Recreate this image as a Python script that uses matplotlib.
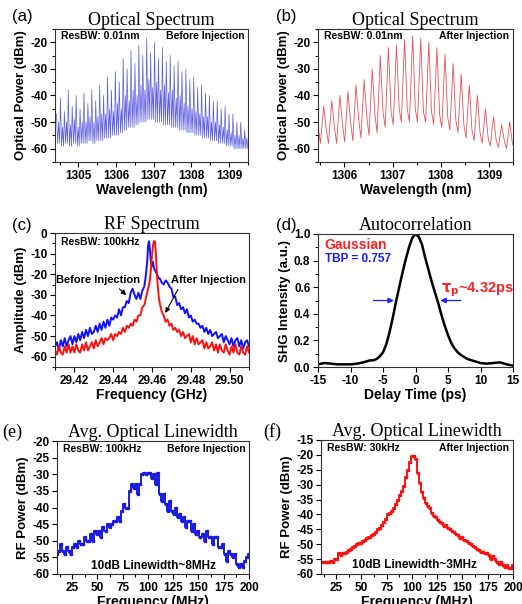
import numpy as np
import matplotlib
matplotlib.use('Agg')
import matplotlib.pyplot as plt
from matplotlib.ticker import MultipleLocator, FormatStrFormatter

plt.rcParams['font.family'] = ['Liberation Sans', 'DejaVu Sans']
plt.rcParams['font.weight'] = 'bold'
plt.rcParams['axes.labelweight'] = 'bold'
plt.rcParams['axes.unicode_minus'] = False
plt.rcParams['mathtext.fontset'] = 'dejavusans'

# ---------------- (a) optical spectrum, before injection ----------------
a_start_nm = 1304.42
a_spacing_nm = 0.104
a_peak = [-47, -41, -46, -38, -44, -40, -45, -39, -43, -38,
          -42, -36, -40, -33, -38, -31, -35, -26, -30, -23,
          -28, -21, -25, -18.5, -24,
          -20, -26, -22, -27, -25, -29, -27, -31, -30, -34,
          -33, -37, -36, -39, -40, -42, -42, -45, -44, -47,
          -47, -50, -50, -53]
a_floor = [-58, -59, -58, -59, -58, -59, -58, -58, -57, -58,
           -57, -57, -56, -56, -55, -55, -54, -53, -52, -52,
           -51, -50, -50, -49, -49, -50, -50, -51, -51, -52,
           -52, -53, -53, -54, -54, -55, -55, -56, -56, -57,
           -57, -58, -58, -59, -59, -60, -60, -60, -60]
a_sub = [-50, -52, -50, -51, -49, -52, -50, -50, -48, -50,
         -48, -47, -47, -45, -46, -43, -45, -40, -42, -38,
         -40, -36, -38, -34, -37, -35, -38, -36, -39, -38,
         -41, -40, -43, -44, -45, -46, -47, -48, -48, -50,
         -50, -51, -52, -53, -54, -55, -55, -56, -56]

# ---------------- (b) optical spectrum, after injection ----------------
b_start_nm = 1305.40
b_spacing_nm = 0.168
b_peak = [-43, -44, -42, -40, -38.5, -36, -34, -30, -25, -22,
          -21, -19, -17.5, -18.5, -20, -22, -24.5, -28, -32, -36,
          -40, -45, -48, -51, -50]
b_shoulder = [-52, -53, -52, -51, -50, -49, -48, -47, -46, -46,
              -45, -45, -45, -46, -46, -47, -48, -49, -51, -53,
              -54, -56, -57, -57, -58]
b_floor = [-58, -58, -58, -57.5, -57, -56, -55, -54, -52, -51,
           -50, -50, -50, -50, -51, -52, -53, -54, -56, -57,
           -58, -59, -59.5, -60, -60]

# ---------------- (c) RF spectrum ----------------
c_freq = np.concatenate([np.linspace(29.410, 29.456, 47),
                         np.linspace(29.4565, 29.465, 18),
                         np.linspace(29.466, 29.510, 45)])
c_before = ([-55, -53, -57, -52, -55, -51, -55, -52, -50, -54,
             -50, -53, -49, -52, -48, -51, -47, -50, -46, -49,
             -48, -45, -48, -44, -47, -43, -46, -42, -45, -41,
             -42, -40, -41, -37, -40, -36, -36, -33, -34, -29,
             -27, -30, -32, -29, -32, -28, -26]
            + [-23, -19, -14, -6, -4, -9, -15, -16, -14, -17,
               -18, -19, -20, -21, -22, -22, -23, -24]
            + [-25, -23, -24, -26, -27, -31, -31, -35, -34, -37,
               -36, -39, -37, -41, -40, -43, -42, -44, -44, -46,
               -45, -48, -46, -49, -47, -50, -49, -48, -51, -50,
               -49, -53, -50, -52, -54, -51, -55, -52, -51, -55,
               -52, -56, -53, -52, -55])
c_after = ([-57, -59, -55, -58, -59, -55, -58, -54, -58, -55,
            -58, -54, -57, -58, -54, -57, -53, -57, -55, -53,
            -56, -52, -55, -53, -51, -54, -51, -52, -51, -49,
            -52, -49, -50, -48, -49, -46, -48, -45, -46, -44,
            -45, -42, -43, -40, -40, -36, -35]
           + [-33, -31, -29, -27, -25, -22, -17, -11, -6, -4,
              -4, -10, -19, -26, -31, -34, -36, -38]
           + [-40, -43, -42, -45, -44, -47, -46, -48, -47, -50,
              -48, -51, -50, -49, -53, -50, -54, -51, -54, -53,
              -52, -56, -53, -56, -55, -53, -57, -54, -58, -54,
              -57, -58, -54, -57, -59, -55, -58, -54, -58, -59,
              -55, -58, -59, -55, -58])

# ---------------- (d) autocorrelation ----------------
d_delay = [-15, -14, -13, -12, -11, -10, -9, -8, -7, -6.5, -6, -5.5, -5, -4.5,
           -4, -3.5, -3, -2.5, -2, -1.5, -1, -0.5, 0, 0.5, 1, 1.5, 2, 2.5, 3,
           3.5, 4, 4.5, 5, 5.5, 6, 6.5, 7, 8, 9, 10, 11, 12, 13, 14, 15]
d_shg = [0.02, 0.03, 0.025, 0.02, 0.02, 0.02, 0.025, 0.035, 0.05, 0.05, 0.06,
         0.08, 0.11, 0.17, 0.26, 0.37, 0.49, 0.60, 0.71, 0.81, 0.90, 0.97,
         1.0, 0.98, 0.92, 0.82, 0.73, 0.64, 0.56, 0.48, 0.39, 0.31, 0.24,
         0.18, 0.14, 0.11, 0.09, 0.06, 0.045, 0.03, 0.025, 0.03, 0.035,
         0.02, 0.01]

# ---------------- (e), (f) avg. optical linewidth ----------------
ef_freq = np.arange(10, 201, 2)
e_power = [-54, -53, -51, -53, -54, -52, -53, -54, -52, -51,
           -52, -50, -51, -51, -49, -50, -50, -48, -50, -47,
           -48, -47, -49, -46, -47, -45, -46, -45, -44, -44,
           -43, -44, -41, -39, -40, -40, -35, -33, -34, -33,
           -36, -33, -30, -29.5, -30, -29.5, -29.5, -31, -30, -33,
           -29.5, -36, -38, -36, -39, -41, -38, -41, -42, -40,
           -43, -42, -44, -43, -46, -44, -44, -47, -45, -48,
           -47, -49, -48, -50, -47, -49, -49, -51, -49, -49,
           -52, -52, -51, -54, -56, -53, -54, -55, -54, -57,
           -58, -57, -58, -56, -55, -54]
f_power = [-56, -56, -56, -56, -56, -55.5, -56, -55, -55, -53,
           -53.5, -53, -53, -52.5, -52, -51.5, -51, -50.5, -50, -49.5,
           -49.5, -49, -48.5, -48, -47.5, -47, -46.5, -46, -45, -44.5,
           -43.5, -42.5, -41.5, -40, -39.5, -39, -38, -36.5, -35, -33.5,
           -32, -30.5, -27.5, -25, -22.5, -20.5, -20.5, -21.5, -26, -29.5,
           -32.5, -34.5, -36, -37, -38, -39.5, -40.5, -41, -42, -42.5,
           -43, -44, -43.5, -44.5, -45, -45.5, -46, -46.5, -47, -48,
           -47.5, -48.5, -49, -49.5, -50, -50.5, -51, -51.5, -52, -52.5,
           -52.5, -53, -53, -53.5, -55, -54, -55, -56, -56.5, -56,
           -57, -57.5, -57, -58, -58, -57]

# ---------------- figure ----------------
W, H = 522, 604
fig = plt.figure(figsize=(W / 100, H / 100), dpi=100)


def ax_px(l, t, r, b):
    return fig.add_axes([l / W, 1 - b / H, (r - l) / W, (b - t) / H])


def style(ax, title, xlabel, ylabel):
    ax.set_title(title, family=['Liberation Serif', 'DejaVu Serif'],
                 fontweight='normal', fontsize=13, pad=2)
    ax.set_xlabel(xlabel, fontsize=10, labelpad=1, fontweight='bold')
    ax.set_ylabel(ylabel, fontsize=9.5, labelpad=2, fontweight='bold')
    ax.tick_params(which='both', direction='out', top=False, right=False,
                   labelsize=8.5, width=0.8, pad=2)
    ax.tick_params(which='major', length=3.5)
    ax.tick_params(which='minor', length=2)
    for lbl in ax.get_xticklabels() + ax.get_yticklabels():
        lbl.set_fontweight('bold')
    for s in ax.spines.values():
        s.set_linewidth(0.8)
        s.set_color('#333333')


def panel_label(x, y, s, serif=False):
    if serif:
        fig.text(x / W, 1 - y / H, s, fontsize=13, fontweight='normal',
                 family=['Liberation Serif', 'DejaVu Serif'], va='center')
    else:
        fig.text(x / W, 1 - y / H, s, fontsize=12, fontweight='normal', va='center')


# (a)
ax = ax_px(55, 29, 248, 162)
a_modes = a_start_nm + a_spacing_nm * np.arange(len(a_peak))
ax_x, ax_y = [], []
for lam, pk, fl, sb in zip(a_modes, a_peak, a_floor, a_sub):
    ax_x += [lam, lam + 0.3 * a_spacing_nm, lam + 0.55 * a_spacing_nm, lam + 0.8 * a_spacing_nm]
    ax_y += [pk, fl, sb, fl]
ax.plot(ax_x, ax_y, color='#5b5be2', lw=0.5)
ax.set_xlim(1304.38, 1309.5)
ax.set_ylim(-65, -15)
ax.xaxis.set_major_locator(MultipleLocator(1))
ax.xaxis.set_minor_locator(MultipleLocator(0.5))
ax.yaxis.set_major_locator(MultipleLocator(10))
ax.yaxis.set_minor_locator(MultipleLocator(5))
style(ax, 'Optical Spectrum', 'Wavelength (nm)', 'Optical Power (dBm)')
ax.text(0.03, 0.945, 'ResBW: 0.01nm', transform=ax.transAxes, fontsize=7.5, va='center')
ax.text(0.98, 0.945, 'Before Injection', transform=ax.transAxes, fontsize=7.5,
        va='center', ha='right')
panel_label(12, 16, '(a)')

# (b)
ax = ax_px(318, 29, 513, 162)
b_modes = b_start_nm + b_spacing_nm * np.arange(len(b_peak))
bx, by = [], []
for lam, pk, sh, fl in zip(b_modes, b_peak, b_shoulder, b_floor):
    bx += [lam, lam + 0.33 * b_spacing_nm, lam + 0.6 * b_spacing_nm]
    by += [pk, sh, fl]
ax.plot(bx, by, color='#ea5058', lw=0.6)
ax.set_xlim(1305.45, 1309.5)
ax.set_ylim(-65, -15)
ax.xaxis.set_major_locator(MultipleLocator(1))
ax.xaxis.set_minor_locator(MultipleLocator(0.5))
ax.yaxis.set_major_locator(MultipleLocator(10))
ax.yaxis.set_minor_locator(MultipleLocator(5))
style(ax, 'Optical Spectrum', 'Wavelength (nm)', 'Optical Power (dBm)')
ax.text(0.03, 0.945, 'ResBW: 0.01nm', transform=ax.transAxes, fontsize=7.5, va='center')
ax.text(0.98, 0.945, 'After Injection', transform=ax.transAxes, fontsize=7.5,
        va='center', ha='right')
panel_label(276, 16, '(b)')

# (c)
ax = ax_px(55, 233, 249, 367)
ax.plot(c_freq, c_before, color='#1010ff', lw=1.4)
ax.plot(c_freq, c_after, color='#ff1010', lw=1.4)
ax.set_xlim(29.41, 29.51)
ax.set_ylim(-65, 0)
ax.xaxis.set_major_locator(MultipleLocator(0.02))
ax.xaxis.set_minor_locator(MultipleLocator(0.01))
ax.yaxis.set_major_locator(MultipleLocator(10))
ax.yaxis.set_minor_locator(MultipleLocator(5))
ax.xaxis.set_major_formatter(FormatStrFormatter('%.2f'))
style(ax, 'RF Spectrum', 'Frequency (GHz)', 'Amplitude (dBm)')
ax.text(0.03, 0.93, 'ResBW: 100kHz', transform=ax.transAxes, fontsize=7.5, va='center')
ax.text(29.4103, -22.6, 'Before Injection', fontsize=8, va='center', ha='left')
ax.text(29.5085, -22.6, 'After Injection', fontsize=8, va='center', ha='right')
ax.annotate('', xy=(29.4478, -31), xytext=(29.4421, -26.2),
            arrowprops=dict(arrowstyle='-|>', color='black', lw=0.8, mutation_scale=7))
ax.annotate('', xy=(29.4662, -40), xytext=(29.4740, -26.2),
            arrowprops=dict(arrowstyle='-|>', color='black', lw=0.8, mutation_scale=7))
panel_label(12, 225, '(c)')

# (d)
ax = ax_px(318, 234, 513, 367)
ax.plot(d_delay, d_shg, color='black', lw=1.8)
ax.set_xlim(-15, 15)
ax.set_ylim(0, 1.0)
ax.xaxis.set_major_locator(MultipleLocator(5))
ax.yaxis.set_major_locator(MultipleLocator(0.2))
ax.yaxis.set_minor_locator(MultipleLocator(0.1))
ax.yaxis.set_major_formatter(FormatStrFormatter('%.1f'))
style(ax, 'Autocorrelation', 'Delay Time (ps)', 'SHG Intensity (a.u.)')
ax.text(0.035, 0.915, 'Gaussian', transform=ax.transAxes, fontsize=10,
        color='#ff2020', va='center')
ax.text(0.035, 0.815, 'TBP = 0.757', transform=ax.transAxes, fontsize=8.5,
        color='#1a1aff', va='center')
ax.annotate('', xy=(-2.9, 0.5), xytext=(-6.9, 0.5),
            arrowprops=dict(arrowstyle='-|>', color='#1a1aff', lw=0.9, mutation_scale=8))
ax.annotate('', xy=(3.4, 0.5), xytext=(7.4, 0.5),
            arrowprops=dict(arrowstyle='-|>', color='#1a1aff', lw=0.9, mutation_scale=8))
ax.text(3.9, 0.58, r'$\mathbf{\tau_p}$~4.32ps', fontsize=10.5, color='#ff2020',
        va='center', ha='left')
panel_label(276, 225, '(d)')

# (e)
ax = ax_px(57, 441, 249, 574)
ax.plot(ef_freq, e_power, color='#1a1ae0', lw=1.4, drawstyle='steps-mid',
        marker='s', ms=1.8)
ax.set_xlim(10, 200)
ax.set_ylim(-60, -20)
ax.xaxis.set_major_locator(MultipleLocator(25))
ax.xaxis.set_minor_locator(MultipleLocator(12.5))
ax.yaxis.set_major_locator(MultipleLocator(5))
style(ax, 'Avg. Optical Linewidth', 'Frequency (MHz)', 'RF Power (dBm)')
ax.text(0.03, 0.94, 'ResBW: 100kHz', transform=ax.transAxes, fontsize=7.5, va='center')
ax.text(0.98, 0.94, 'Before Injection', transform=ax.transAxes, fontsize=7.5,
        va='center', ha='right')
ax.text(105, -57.5, '10dB Linewidth~8MHz', fontsize=8.5, ha='center', va='center')
panel_label(2, 432, '(e)', serif=True)

# (f)
ax = ax_px(321, 440, 513, 574)
ax.plot(ef_freq, f_power, color='#ff1010', lw=1.4, drawstyle='steps-mid',
        marker='s', ms=1.8)
ax.set_xlim(10, 200)
ax.set_ylim(-60, -15)
ax.xaxis.set_major_locator(MultipleLocator(25))
ax.xaxis.set_minor_locator(MultipleLocator(12.5))
ax.yaxis.set_major_locator(MultipleLocator(5))
style(ax, 'Avg. Optical Linewidth', 'Frequency (MHz)', 'RF Power (dBm)')
ax.text(0.03, 0.94, 'ResBW: 30kHz', transform=ax.transAxes, fontsize=7.5, va='center')
ax.text(0.98, 0.94, 'After Injection', transform=ax.transAxes, fontsize=7.5,
        va='center', ha='right')
ax.text(102, -57, '10dB Linewidth~3MHz', fontsize=8.5, ha='center', va='center')
panel_label(263, 432, '(f)', serif=True)

fig.savefig('out.png', dpi=100)
